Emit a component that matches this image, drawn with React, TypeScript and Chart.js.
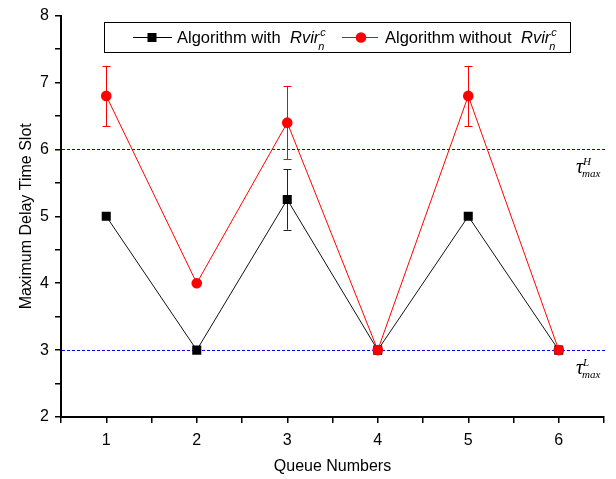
import React, { useEffect, useRef } from 'react';
import { Chart, registerables } from 'chart.js';

Chart.register(...registerables);

// ---- data ----
const queues = [1, 2, 3, 4, 5, 6];
const withRvir = [5, 3, 5.25, 3, 5, 3];
const withRvirErr = [0, 0, 0.45, 0, 0, 0];
const withoutRvir = [6.8, 4, 6.4, 3, 6.8, 3];
const withoutRvirErr = [0.45, 0, 0.55, 0, 0.45, 0];
const thresholdValues = [6, 3];
const thresholdSup = ['H', 'L'];
const xTitle = 'Queue Numbers';
const yTitle = 'Maximum Delay Time Slot';
const legendNames = ['Algorithm with', 'Algorithm without'];

const SANS = '"Liberation Sans", Arial, sans-serif';
const SERIF = '"Liberation Serif", "Times New Roman", serif';
const BLACK = '#000000';
const RED = '#ff0000';
const BLUE = '#0000ff';

const decorPlugin = {
  id: 'decor',
  beforeDatasetsDraw(chart: any) {
    const { ctx, scales, chartArea } = chart;
    const xs = scales.x;
    const ys = scales.y;
    ctx.save();
    // threshold dashed lines
    ctx.strokeStyle = BLUE;
    ctx.lineWidth = 1;
    ctx.setLineDash([3, 2]);
    thresholdValues.forEach((v) => {
      const y = Math.round(ys.getPixelForValue(v)) + 0.5;
      ctx.beginPath();
      ctx.moveTo(chartArea.left + 1, y);
      ctx.lineTo(chartArea.right + 3, y);
      ctx.stroke();
    });
    ctx.setLineDash([]);
    // error bars
    const drawErr = (vals: number[], errs: number[], color: string) => {
      ctx.strokeStyle = color;
      ctx.lineWidth = 1;
      vals.forEach((v, i) => {
        const e = errs[i];
        if (!e) return;
        const x = Math.round(xs.getPixelForValue(queues[i])) + 0.5;
        const yt = ys.getPixelForValue(v + e);
        const yb = ys.getPixelForValue(v - e);
        ctx.beginPath();
        ctx.moveTo(x, yt);
        ctx.lineTo(x, yb);
        ctx.moveTo(x - 4, Math.round(yt) + 0.5);
        ctx.lineTo(x + 4, Math.round(yt) + 0.5);
        ctx.moveTo(x - 4, Math.round(yb) + 0.5);
        ctx.lineTo(x + 4, Math.round(yb) + 0.5);
        ctx.stroke();
      });
    };
    drawErr(withRvir, withRvirErr, '#222222');
    drawErr(withoutRvir, withoutRvirErr, RED);
    ctx.restore();
  },
  afterDraw(chart: any) {
    const { ctx, scales } = chart;
    const ys = scales.y;
    ctx.save();
    ctx.fillStyle = BLACK;
    ctx.textBaseline = 'alphabetic';
    ctx.textAlign = 'left';
    // tau labels
    thresholdValues.forEach((v, i) => {
      const y0 = ys.getPixelForValue(v);
      const tx = 576;
      ctx.font = 'italic 20px ' + SERIF;
      ctx.fillText('\u03C4', tx, y0 + 24);
      ctx.font = 'italic 11px ' + SERIF;
      ctx.fillText(thresholdSup[i], tx + 7, y0 + 16);
      ctx.fillText('max', tx + 6, y0 + 28);
    });

    // legend box
    const bx = 104, by = 22, bw = 466, bh = 30;
    ctx.fillStyle = '#ffffff';
    ctx.fillRect(bx, by, bw, bh);
    ctx.strokeStyle = BLACK;
    ctx.lineWidth = 1;
    ctx.strokeRect(bx + 0.5, by + 0.5, bw, bh);
    const cy = 37.5;
    const items = [
      { color: BLACK, l1: 133, l2: 172, mx: 152, tx: 177, rx: 290, style: 'rect', name: legendNames[0] },
      { color: RED, l1: 342, l2: 378, mx: 361, tx: 385, rx: 521, style: 'circle', name: legendNames[1] },
    ];
    items.forEach((it) => {
      ctx.strokeStyle = it.color;
      ctx.beginPath();
      ctx.moveTo(it.l1, cy);
      ctx.lineTo(it.l2, cy);
      ctx.stroke();
      ctx.fillStyle = it.color;
      if (it.style === 'rect') {
        ctx.fillRect(it.mx - 4.5, cy - 4.5, 9, 9);
      } else {
        ctx.beginPath();
        ctx.arc(it.mx, cy, 5.3, 0, Math.PI * 2);
        ctx.fill();
      }
      ctx.fillStyle = BLACK;
      ctx.font = '16.5px ' + SANS;
      ctx.fillText(it.name, it.tx, 43);
      ctx.font = 'italic 16.5px ' + SANS;
      ctx.fillText('Rvir', it.rx, 43);
      const w = ctx.measureText('Rvir').width;
      ctx.font = 'italic 11px ' + SANS;
      ctx.fillText('c', it.rx + w + 1, 36);
      ctx.fillText('n', it.rx + w - 1, 50);
    });
    ctx.restore();
  },
};

export default function App() {
  const ref = useRef<HTMLCanvasElement | null>(null);
  useEffect(() => {
    document.body.style.margin = '0';
    if (!ref.current) return;
    const tickFont = { family: SANS, size: 16 };
    const chart = new Chart(ref.current, {
      type: 'line',
      data: {
        datasets: [
          {
            label: legendNames[1],
            data: queues.map((q, i) => ({ x: q, y: withoutRvir[i] })),
            borderColor: RED,
            backgroundColor: RED,
            borderWidth: 1,
            pointStyle: 'circle',
            pointRadius: 5.3,
            pointBorderWidth: 0,
            pointHoverRadius: 5.3,
            order: 0,
          },
          {
            label: legendNames[0],
            data: queues.map((q, i) => ({ x: q, y: withRvir[i] })),
            borderColor: '#111111',
            backgroundColor: BLACK,
            borderWidth: 1,
            pointStyle: 'rect',
            pointRadius: 6.4,
            pointBorderWidth: 0,
            pointHoverRadius: 6.4,
            order: 1,
          },
        ],
      },
      options: {
        animation: false,
        responsive: false,
        events: [],
        layout: { padding: { top: 14, right: 12, left: 0, bottom: 0 } },
        plugins: { legend: { display: false }, tooltip: { enabled: false } },
        scales: {
          x: {
            type: 'linear',
            min: 0.5,
            max: 6.5,
            afterFit(s: any) { s.height = 62; },
            ticks: {
              stepSize: 0.5,
              autoSkip: false,
              maxRotation: 0,
              color: BLACK,
              font: tickFont,
              padding: 8,
              callback: (v: any) => (Number.isInteger(Number(v)) ? String(v) : ''),
            },
            grid: { drawOnChartArea: false, tickLength: 6, color: BLACK, tickColor: BLACK, tickWidth: 1.5, lineWidth: 1.5 },
            border: { display: true, color: BLACK, width: 2 },
            title: { display: true, text: xTitle, color: BLACK, font: tickFont, padding: { top: 0, bottom: 3 } },
          },
          y: {
            type: 'linear',
            min: 2,
            max: 8,
            afterFit(s: any) { s.width = 61; },
            ticks: {
              stepSize: 0.5,
              autoSkip: false,
              color: BLACK,
              font: tickFont,
              padding: 6,
              callback: (v: any) => (Number.isInteger(Number(v)) ? String(v) : ''),
            },
            grid: { drawOnChartArea: false, tickLength: 6, color: BLACK, tickColor: BLACK, tickWidth: 1.5, lineWidth: 1.5 },
            border: { display: true, color: BLACK, width: 2 },
            title: { display: true, text: yTitle, color: BLACK, font: tickFont, padding: { top: 17, bottom: 0 } },
          },
        },
      },
      plugins: [decorPlugin],
    } as any);
    return () => chart.destroy();
  }, []);
  return (
    <div style={{ position: 'absolute', left: 0, top: 0, width: 616, height: 479, background: '#fff' }}>
      <canvas ref={ref} width={616} height={479} style={{ display: 'block' }} />
    </div>
  );
}
